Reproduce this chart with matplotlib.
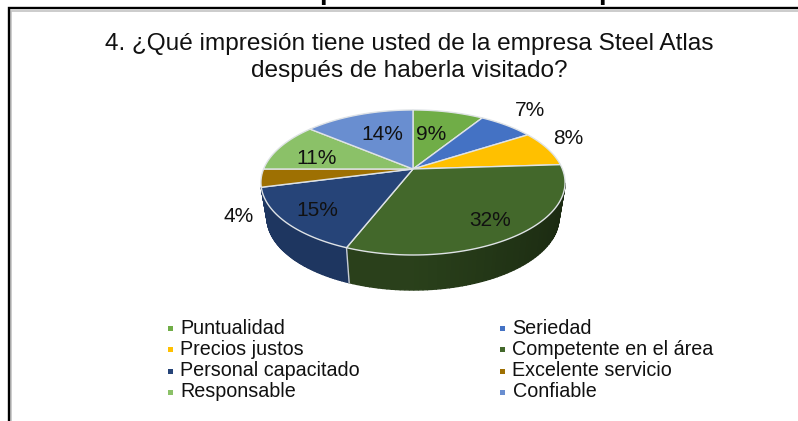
import numpy as np
import matplotlib
matplotlib.use("Agg")
import matplotlib.pyplot as plt
from matplotlib.colors import to_rgb

plt.rcParams['font.family'] = ['Liberation Sans', 'DejaVu Sans']

# data
categories = ['Puntualidad', 'Seriedad', 'Precios justos', 'Competente en el área',
              'Personal capacitado', 'Excelente servicio', 'Responsable', 'Confiable']
values = [9, 7, 8, 32, 15, 4, 11, 14]
colors = ['#70AD47', '#4472C4', '#FFC000', '#43682B', '#264478', '#9E7002', '#8BC168', '#698ED0']
title = '4. ¿Qué impresión tiene usted de la empresa Steel Atlas\ndespués de haberla visitado?'

# pie geometry in pixels, y runs downwards
cx, cy = 413, 169
c, a, b = 149.4, 70.0, 0.186
depth, shrink = 35, 0.96


def project(frac, r=1.0):
    # clockwise from 12 o'clock, with a perspective tilt
    ang = 2 * np.pi * np.asarray(frac)
    u, v = r * np.sin(ang), r * np.cos(ang)
    d = 1 + b * v
    return cx + c * u / d, cy - a * v / d


def project_low(frac):
    x, y = project(frac)
    return cx + (x - cx) * shrink, y + depth


fig = plt.figure(figsize=(7.98, 4.21), dpi=100)
ax = fig.add_axes([0, 0, 1, 1])
ax.set_xlim(0, 798)
ax.set_ylim(421, 0)
ax.axis('off')

# bottom of the cropped heading above the chart
ax.text(319, -1, 'p', fontsize=20, fontweight='bold', color='black', ha='left', va='baseline')
ax.text(598, -1, 'p', fontsize=20, fontweight='bold', color='black', ha='left', va='baseline')

# frame of the chart, cut off by the crop
ax.plot([10.5, 10.5, 798], [421, 10.5, 10.5], color='#c4c4c4', lw=1.2, solid_joinstyle='miter')
ax.plot([8.5, 8.5, 798], [421, 8, 8], color='black', lw=1.7, solid_joinstyle='miter')

edges = np.cumsum([0] + values) / sum(values)

# side of the pie: thin strips, back ones first
for i, col in enumerate(colors):
    if i == 5:
        continue  # the brown slice shows no wall
    fr = np.linspace(edges[i], edges[i + 1], 80)
    base = np.array(to_rgb(col))
    for f0, f1 in zip(fr[:-1], fr[1:]):
        fm = (f0 + f1) / 2
        if np.cos(2 * np.pi * fm) > -0.18:
            continue
        # darker toward the lower right like the reference shading
        shade = 0.62 - 0.22 * max(0, np.sin(2 * np.pi * fm))
        if i == 4:
            shade = 0.8
        x0, y0 = project(f0)
        x1, y1 = project(f1)
        x2, y2 = project_low(f1)
        x3, y3 = project_low(f0)
        ax.fill([x0, x1, x2, x3], [y0, y1, y2, y3], color=base * shade, lw=1.0, zorder=2)

# seam between the two visible side faces
x_t, y_t = project(edges[4])
x_b, y_b = project_low(edges[4])
ax.plot([x_t, x_b], [y_t, y_b], color='#c8cdd2', lw=1.0, zorder=3)

# top face
for i, col in enumerate(colors):
    fr = np.linspace(edges[i], edges[i + 1], 80)
    x, y = project(fr)
    ax.fill(np.r_[cx, x], np.r_[cy, y], facecolor=col, edgecolor='#dfe3e6', lw=1.0, zorder=4)

# percent labels, placed by slice
label_pos = [(431, 134), (530, 111), (568, 138), (490, 220), (317, 211), (239, 217), (317, 158), (382, 135)]
for val, (lx, ly) in zip(values, label_pos):
    ax.text(lx, ly, f'{val}%', fontsize=15, color='#111111', ha='center', va='center', zorder=5)

ax.text(409, 57.5, title, fontsize=17.55, color='#111111', ha='center', va='center', linespacing=1.24)

# legend in two columns
col_x = [169.5, 502]
for i, (name, col) in enumerate(zip(categories, colors)):
    lx = col_x[i % 2]
    ly = 328 + 21.3 * (i // 2)
    ax.plot([lx], [ly], marker='s', ms=3.6, color=col, mew=0)
    ax.text(lx + 10.5, ly, name, fontsize=14.2, color='#111111', ha='left', va='center')

fig.savefig('out.png', dpi=100)
